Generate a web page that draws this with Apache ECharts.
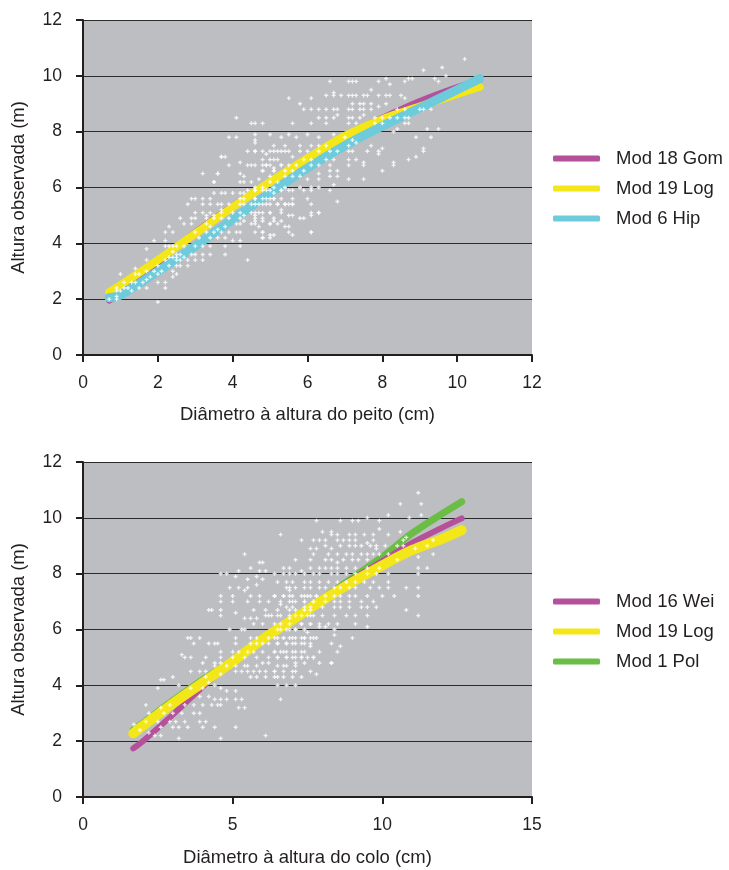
<!DOCTYPE html>
<html>
<head>
<meta charset="utf-8">
<script src="https://cdn.jsdelivr.net/npm/echarts@6/dist/echarts.min.js"></script>
<style>
html,body{margin:0;padding:0;background:#fff;}
#main{width:729px;height:870px;}
</style>
</head>
<body>
<div id="main"></div>
<script>
// upper chart: DAP (diametro a altura do peito) x altura
var dapPts = [
[3.7,7.1],[3.8,7.1],[4.4,7.3],[4.6,7.3],[4.9,7.2],[5.0,7.3],[5.2,7.3],[5.4,7.3],[5.0,7.0],[5.2,7.0],
[5.3,6.8],[5.5,6.8],[3.9,6.8],[4.2,6.9],[4.4,6.8],[4.5,6.8],[4.8,6.8],[4.9,6.8],[5.1,6.7],[3.2,6.5],
[3.6,6.5],[4.2,6.5],[4.3,6.4],[4.8,6.6],[5.1,6.6],[3.5,6.2],[4.2,6.2],[4.3,6.2],[4.5,6.2],[4.7,6.3],
[5.0,6.2],[5.2,6.2],[3.5,5.8],[3.7,5.8],[3.8,5.8],[4.0,5.8],[4.2,5.8],[4.3,5.8],[4.4,5.9],[4.6,5.9],
[4.8,5.9],[5.0,5.9],[5.1,5.8],[5.3,5.9],[5.5,5.9],[2.9,5.6],[3.0,5.6],[3.2,5.6],[3.4,5.6],[4.2,5.6],
[4.3,5.6],[4.6,5.6],[4.8,5.6],[5.0,5.6],[5.1,5.6],[5.3,5.6],[5.5,5.4],[5.6,5.4],[2.8,5.4],[3.2,5.4],
[3.4,5.4],[3.6,5.4],[3.7,5.4],[3.9,5.4],[4.2,5.4],[4.3,5.4],[4.5,5.4],[4.7,5.4],[4.8,5.4],[5.0,5.4],
[5.2,5.4],[5.4,5.4],[3.0,5.1],[3.2,5.1],[3.4,5.1],[3.7,5.1],[4.0,5.1],[4.2,5.1],[4.5,5.1],[4.7,5.1],
[5.0,5.1],[5.3,5.1],[3.3,5.0],[3.5,5.0],[3.7,5.2],[4.3,5.0],[4.6,5.0],[2.6,4.9],[2.9,4.9],[3.0,4.9],
[3.3,4.9],[3.5,4.9],[3.7,4.9],[3.9,4.9],[4.2,4.9],[4.3,4.8],[4.6,4.8],[4.8,4.8],[5.1,4.8],[5.3,4.8],
[2.7,4.7],[2.9,4.7],[3.3,4.7],[3.4,4.6],[3.6,4.5],[3.8,4.6],[4.1,4.7],[4.2,4.7],[4.5,4.7],[4.7,4.6],
[5.0,4.7],[5.2,4.7],[5.5,4.6],[2.3,4.6],[2.4,4.4],[2.2,4.4],[3.0,4.4],[3.3,4.4],[3.5,4.4],[3.7,4.4],
[3.9,4.4],[4.1,4.4],[4.2,4.4],[4.6,4.4],[4.8,4.4],[1.9,4.1],[2.2,4.1],[3.1,4.2],[3.4,4.2],[3.6,4.2],
[3.8,4.2],[4.0,4.1],[4.2,4.1],[4.8,4.2],[4.2,3.9],[3.8,3.9],[2.2,3.9],[2.3,3.9],[2.4,3.9],[2.5,3.9],
[2.7,3.9],[3.0,3.9],[3.2,3.9],[3.4,3.9],[1.7,3.8],[2.4,3.7],[2.5,3.6],[2.6,3.6],[2.9,3.6],[3.0,3.6],
[3.2,3.6],[3.4,3.6],[3.8,3.6],[2.3,3.5],[2.4,3.5],[2.5,3.5],[2.7,3.5],[2.2,3.4],[2.5,3.4],[2.6,3.4],
[2.8,3.4],[3.0,3.4],[3.2,3.4],[1.7,3.4],[2.3,3.2],[2.0,3.2],[2.5,3.2],[2.6,3.2],[2.8,3.2],[1.4,3.1],
[1.7,3.0],[1.9,3.0],[2.1,3.0],[2.4,3.0],[2.5,2.9],[1.0,2.9],[1.4,2.9],[1.5,2.9],[1.8,2.8],[2.0,2.9],
[2.4,2.8],[1.1,2.6],[1.3,2.6],[1.4,2.6],[1.6,2.6],[1.7,2.7],[2.0,2.6],[2.2,2.6],[0.9,2.4],[1.1,2.4],
[1.2,2.4],[1.5,2.4],[1.7,2.4],[2.2,2.4],[0.9,2.3],[1.0,2.3],[1.3,2.3],[0.9,2.1],[0.9,2.0],[0.7,2.0],
[2.0,1.9],[4.4,3.4],[4.1,8.5],[4.5,8.3],[3.9,7.8],[4.1,7.8],[4.6,7.7],[3.7,7.1],[3.6,6.5],[3.5,6.2],
[5.5,4.4],[6.1,4.4],[5.1,4.3],[5.0,4.3],[6.3,5.1],[6.1,5.1],[5.9,4.9],[5.6,5.0],
[10.2,10.6],[9.1,10.2],[9.6,10.3],[9.7,10.0],[8.1,9.9],[8.2,9.7],[8.7,9.9],[8.8,9.9],[9.4,9.9],[9.5,9.8],
[6.6,9.8],[7.1,9.8],[7.2,9.8],[7.3,9.8],[7.9,9.8],[8.6,9.8],[7.7,9.5],[5.5,9.2],[5.8,9.0],[6.1,9.2],
[6.5,9.3],[6.7,9.4],[6.7,9.3],[6.9,9.3],[7.1,9.3],[7.2,9.3],[7.3,9.3],[7.5,9.3],[7.6,9.3],[7.9,9.3],
[8.1,9.3],[8.2,9.3],[8.5,9.3],[8.6,9.2],[7.2,9.0],[7.4,9.0],[7.5,9.0],[7.7,9.0],[7.9,8.9],[8.1,9.0],
[5.9,8.8],[6.1,8.8],[6.3,8.8],[6.5,8.8],[6.7,8.8],[6.8,8.8],[7.1,8.8],[7.2,8.8],[7.4,8.8],[7.5,8.8],
[7.7,8.8],[8.4,8.8],[8.6,8.8],[9.0,8.8],[9.1,8.8],[9.3,8.8],[6.3,8.5],[6.5,8.5],[6.7,8.5],[6.8,8.6],
[7.1,8.5],[7.2,8.5],[7.4,8.5],[7.5,8.6],[7.8,8.5],[8.0,8.5],[8.2,8.5],[8.4,8.5],[8.6,8.5],[8.7,8.5],
[4.6,8.3],[4.8,8.3],[5.6,8.3],[6.1,8.3],[6.5,8.3],[7.1,8.3],[7.3,8.3],[7.8,8.3],[8.0,8.3],[8.6,8.3],
[8.7,8.3],[9.2,8.1],[9.5,8.1],[8.3,8.0],[8.4,8.1],[4.6,7.9],[5.0,7.9],[5.3,7.8],[5.5,7.9],[5.7,7.8],
[6.0,7.9],[6.3,7.8],[6.7,7.9],[7.0,7.8],[7.2,7.7],[8.9,7.8],[9.3,7.8],[4.6,7.6],[5.1,7.5],[5.4,7.5],
[5.8,7.5],[6.1,7.5],[6.3,7.5],[6.5,7.5],[7.1,7.5],[7.3,7.6],[7.7,7.5],[8.0,7.4],[9.1,7.4],[9.1,7.3],
[4.6,7.3],[4.8,7.3],[5.1,7.3],[5.3,7.3],[5.5,7.3],[5.8,7.3],[6.0,7.3],[6.3,7.3],[6.6,7.3],[6.8,7.3],
[7.1,7.3],[7.2,7.3],[7.6,7.3],[7.9,7.3],[4.8,7.0],[5.1,7.0],[5.6,7.1],[5.9,7.0],[6.1,7.0],[6.5,7.0],
[6.7,7.0],[7.1,7.0],[7.3,7.0],[7.5,6.9],[7.9,7.2],[8.7,7.0],[8.9,7.1],[4.6,6.8],[4.9,6.8],[5.0,6.8],
[5.3,6.8],[5.7,6.8],[6.1,6.8],[6.3,6.8],[6.6,6.8],[7.1,6.8],[7.5,6.8],[8.3,6.9],[8.3,6.8],[4.8,6.6],
[5.1,6.6],[5.4,6.6],[5.6,6.6],[5.9,6.6],[6.3,6.5],[6.6,6.6],[6.8,6.6],[5.0,6.4],[5.4,6.4],[5.6,6.4],
[5.8,6.4],[6.0,6.3],[6.3,6.3],[6.6,6.4],[6.8,6.4],[7.1,6.3],[7.5,6.3],[8.0,6.6],[4.6,6.0],[4.8,6.0],
[5.1,6.0],[5.4,6.0],[5.8,6.0],[6.1,6.0],[6.3,6.0],[6.7,6.1],[4.6,5.9],[4.9,5.9],[5.3,5.9],[5.6,5.9],
[5.9,5.9],[6.1,5.9],[6.6,5.9],[4.6,5.6],[4.9,5.6],[5.1,5.6],[5.6,5.6],[6.0,5.6],[4.6,5.4],[4.9,5.4],
[5.2,5.4],[5.4,5.4],[5.6,5.4],[6.1,5.4],[6.8,5.5],[4.6,5.1],[4.8,5.1],[5.0,5.1],[5.3,5.2],[6.3,5.1],
[4.6,4.9],[4.8,4.9],[5.1,4.9],[5.5,5.0],[5.8,4.9],[6.1,5.0],[4.6,4.7],[5.0,4.7],[5.4,4.6],[4.8,4.4],
[5.6,4.3],[6.1,4.4],[4.8,4.2],[5.0,4.2]
];
var dapX = [0.7, 1, 2, 3, 4, 5, 6, 7, 8, 9, 10, 10.6];
var gomY = [1.95, 2.2, 3.3, 4.4, 5.35, 6.2, 7.05, 7.85, 8.5, 9.1, 9.6, 9.85];
var logY = [2.25, 2.5, 3.4, 4.35, 5.3, 6.2, 7.05, 7.85, 8.45, 8.9, 9.35, 9.6];
var hipY = [2.05, 2.15, 3.0, 3.9, 4.85, 5.8, 6.7, 7.5, 8.2, 8.85, 9.5, 9.9];

// lower chart: DAC (diametro a altura do colo) x altura
var dacPts = [
[4.6,7.2],[5.0,7.2],[5.4,7.4],[5.6,7.2],[5.9,7.2],[6.4,7.2],[6.7,7.2],[6.9,7.4],[7.0,7.2],[7.4,7.2],
[7.6,7.2],[7.8,7.2],[4.6,7.0],[5.0,7.0],[5.5,7.0],[5.9,7.0],[6.2,7.0],[6.6,6.9],[6.9,7.0],[7.1,7.0],
[7.4,7.0],[7.7,7.0],[4.2,6.7],[4.3,6.7],[4.6,6.7],[5.1,6.6],[5.7,6.7],[6.1,6.7],[6.5,6.7],[6.9,6.7],
[7.1,6.7],[7.4,6.7],[7.6,6.7],[4.6,6.5],[5.4,6.4],[5.6,6.4],[5.8,6.4],[6.1,6.5],[6.3,6.5],[6.5,6.5],
[6.9,6.4],[7.1,6.5],[7.5,6.5],[7.7,6.5],[5.7,6.2],[6.0,6.2],[6.4,6.2],[7.3,6.2],[7.6,6.2],[4.9,6.0],
[5.3,6.0],[5.4,6.0],[6.6,6.0],[6.9,6.0],[7.1,6.0],[7.5,5.9],[3.5,5.7],[3.6,5.7],[3.9,5.7],[5.1,5.7],
[5.6,5.7],[5.8,5.7],[6.2,5.7],[6.5,5.7],[6.7,5.7],[6.9,5.7],[7.1,5.7],[7.4,5.7],[7.6,5.7],[7.8,5.7],
[3.7,5.5],[4.2,5.5],[4.4,5.5],[4.5,5.5],[5.1,5.5],[5.6,5.5],[5.8,5.5],[6.0,5.5],[6.2,5.5],[6.5,5.5],
[6.8,5.5],[7.0,5.5],[7.3,5.5],[7.6,5.4],[4.6,5.2],[5.0,5.2],[5.2,5.2],[5.5,5.2],[5.7,5.2],[6.0,5.2],
[6.4,5.2],[6.6,5.2],[6.8,5.2],[7.1,5.2],[7.4,5.2],[3.3,5.1],[3.4,5.0],[3.6,5.0],[4.1,5.0],[4.0,4.8],
[4.4,4.8],[4.6,5.0],[5.0,5.0],[5.4,5.0],[5.8,5.0],[6.2,5.0],[6.5,5.0],[6.8,5.0],[7.0,5.0],[7.3,5.0],
[7.5,5.0],[7.7,5.0],[3.6,4.5],[3.9,4.5],[4.1,4.5],[4.4,4.7],[4.6,4.8],[4.8,4.7],[5.1,4.7],[5.4,4.7],
[5.5,4.7],[5.8,4.7],[6.0,4.8],[6.2,4.8],[6.5,4.7],[6.8,4.7],[7.1,4.8],[7.4,4.8],[2.6,4.2],[2.7,4.2],
[3.0,4.3],[4.1,4.3],[4.6,4.4],[5.1,4.5],[5.3,4.5],[5.5,4.5],[5.7,4.5],[5.9,4.5],[6.1,4.5],[6.4,4.5],
[6.7,4.5],[7.1,4.5],[5.6,4.3],[5.8,4.3],[6.1,4.3],[6.4,4.3],[6.7,4.3],[7.0,4.3],[7.3,4.3],[2.5,3.9],
[3.2,4.0],[3.6,3.9],[4.0,3.9],[4.2,4.1],[4.4,4.0],[4.6,3.9],[4.8,3.8],[5.1,3.8],[6.5,4.0],[6.8,4.0],
[7.1,4.0],[3.9,3.6],[4.2,3.6],[4.4,3.5],[4.6,3.5],[4.8,3.5],[5.1,3.5],[5.3,3.5],[6.6,3.5],[2.1,3.3],
[2.6,3.2],[2.9,3.3],[3.4,3.3],[3.7,3.3],[4.0,3.3],[4.3,3.3],[4.5,3.3],[4.6,3.3],[5.2,3.2],[5.4,3.2],
[2.2,3.0],[2.7,3.0],[3.0,3.0],[3.3,3.0],[3.7,3.0],[3.9,3.0],[2.1,2.7],[2.5,2.7],[2.9,2.7],[3.1,2.7],
[3.4,2.7],[3.9,2.7],[4.1,2.7],[2.6,2.5],[3.0,2.5],[3.2,2.5],[3.5,2.5],[4.0,2.5],[4.4,2.5],[5.1,2.5],
[2.2,2.3],[2.4,2.2],[2.6,2.2],[3.2,2.1],[4.6,2.1],[6.1,2.2],[1.7,2.6],[1.9,2.4],
[5.4,8.7],[5.9,8.4],[6.0,8.4],[4.6,8.0],[4.8,8.0],[5.5,7.8],[5.8,7.9],[5.1,7.9],[4.9,7.5],[5.2,7.5],
[5.5,7.5],[5.8,7.6],[6.0,7.8],[5.2,8.1],[5.6,8.2],[5.9,8.1],[6.1,8.1],[8.3,4.8],
[11.2,10.9],[10.6,10.5],[11.3,10.5],[11.3,10.1],[10.2,10.1],[9.5,10.0],[7.8,9.9],[8.6,9.9],[9.0,9.9],[9.2,9.9],
[9.9,9.9],[10.9,10.0],[6.6,9.4],[7.3,9.2],[8.0,9.5],[8.3,9.5],[8.3,9.4],[8.5,9.4],[8.9,9.4],[9.1,9.4],
[9.4,9.4],[9.7,9.4],[9.9,9.6],[10.2,9.4],[10.6,9.5],[10.8,9.3],[7.7,9.2],[7.9,9.2],[8.1,9.2],[8.5,9.2],
[8.7,9.2],[8.9,9.2],[9.1,9.2],[9.5,9.1],[9.7,9.2],[9.8,9.0],[10.7,9.2],[11.7,9.2],[7.6,8.9],[7.8,8.9],
[8.1,9.0],[8.3,8.9],[8.6,9.0],[8.9,9.0],[9.1,9.0],[9.3,9.0],[9.6,9.0],[9.8,8.9],[10.1,9.0],[10.5,9.0],
[10.7,9.0],[11.1,8.9],[11.5,9.0],[7.7,8.7],[8.2,8.7],[8.5,8.7],[8.8,8.7],[9.0,8.7],[9.3,8.7],[9.5,8.7],
[9.7,8.7],[9.9,8.7],[10.2,8.7],[11.2,8.6],[11.7,8.7],[7.1,8.5],[7.6,8.5],[8.1,8.5],[8.3,8.5],[8.5,8.4],
[8.7,8.5],[9.0,8.5],[9.2,8.5],[9.5,8.5],[10.5,8.5],[6.7,8.2],[6.9,8.2],[7.3,8.1],[7.6,8.2],[7.9,8.2],
[8.1,8.2],[8.3,8.2],[8.5,8.2],[8.8,8.2],[9.1,8.2],[9.5,8.2],[9.9,8.2],[11.2,8.2],[11.5,8.2],[6.4,8.0],
[6.7,8.0],[6.9,8.0],[7.1,8.0],[7.4,8.0],[7.7,8.0],[7.9,8.0],[8.3,8.0],[8.5,8.0],[8.8,8.0],[9.1,8.0],
[9.5,8.0],[9.8,8.0],[10.2,8.0],[11.2,8.0],[6.5,7.7],[6.8,7.7],[7.0,7.7],[7.4,7.7],[7.6,7.7],[7.9,7.7],
[8.2,7.7],[8.5,7.7],[8.8,7.7],[9.1,7.7],[9.4,7.7],[9.7,7.7],[10.2,7.7],[6.8,7.5],[6.9,7.5],[7.1,7.5],
[7.4,7.5],[7.6,7.5],[7.9,7.5],[8.1,7.5],[8.4,7.5],[8.6,7.5],[8.9,7.5],[9.1,7.5],[9.6,7.5],[9.9,7.5],
[10.2,7.5],[10.8,7.5],[11.2,7.5],[6.4,7.2],[6.7,7.2],[6.9,7.2],[7.3,7.2],[7.5,7.2],[7.8,7.2],[8.1,7.2],
[8.4,7.2],[8.6,7.2],[8.9,7.2],[9.1,7.2],[9.5,7.2],[10.0,7.2],[10.4,7.2],[11.2,7.2],[6.6,7.0],[7.0,7.0],
[7.4,7.0],[7.7,7.0],[8.1,7.0],[8.4,7.0],[8.6,7.0],[8.9,7.0],[9.3,7.0],[9.7,7.0],[6.8,6.8],[7.0,6.8],
[7.4,6.8],[7.6,6.8],[8.0,6.8],[8.4,6.8],[8.6,6.8],[8.9,6.8],[9.3,6.8],[9.5,6.8],[9.8,6.8],[10.8,6.7],
[6.2,6.5],[6.6,6.5],[6.9,6.5],[7.3,6.5],[7.6,6.5],[8.0,6.5],[8.4,6.5],[8.8,6.5],[9.1,6.5],[9.5,6.5],
[11.2,6.5],[6.6,6.2],[6.9,6.2],[7.3,6.2],[7.6,6.2],[7.9,6.2],[8.2,6.2],[8.5,6.2],[9.1,6.2],[9.5,6.1],
[6.5,6.0],[6.8,6.0],[7.1,6.0],[7.4,6.0],[7.9,6.1],[8.1,6.1],[8.4,6.0],[6.4,5.7],[6.7,5.7],[7.0,5.7],
[7.3,5.7],[7.4,5.7],[7.7,5.7],[8.4,5.8],[9.0,5.7],[6.5,5.5],[6.8,5.5],[7.1,5.5],[7.4,5.5],[7.6,5.5],
[8.3,5.5],[8.6,5.4],[6.4,5.2],[6.7,5.2],[7.0,5.2],[7.3,5.2],[7.9,5.2],[8.5,5.2],[6.5,5.0],[6.8,5.0],
[7.1,5.0],[7.3,5.0],[7.7,5.0],[7.9,4.8],[8.3,4.8],[6.7,4.7],[7.1,4.7],[7.6,4.5],[7.8,4.4],[6.4,4.5],
[7.0,4.5],[6.5,4.3]
];
var dacX = [1.68, 2, 3, 4, 5, 6, 7, 8, 9, 10, 11, 12, 12.65];
var weiY = [1.74, 2.0, 2.95, 3.95, 4.9, 5.7, 6.4, 7.1, 7.8, 8.45, 9.1, 9.65, 9.98];
var logY2 = [2.28, 2.55, 3.35, 4.1, 4.85, 5.65, 6.35, 7.05, 7.7, 8.3, 8.85, 9.25, 9.56];
var polY = [2.4, 2.65, 3.45, 4.2, 4.9, 5.7, 6.4, 7.1, 7.85, 8.6, 9.45, 10.15, 10.58];

function par(xs, ys) {
    var out = [];
    for (var i = 0; i < xs.length; i++) out.push([xs[i], ys[i]]);
    return out;
}

var corTexto = '#231F20';
var fonte = '"Liberation Sans", Arial, sans-serif';
var cruz = 'path://M1,0H2V1H3V2H2V3H1V2H0V1H1Z';

function eixoX(idx, max, step, nome, gap) {
    return {
        gridIndex: idx, type: 'value', min: 0, max: max, interval: step,
        name: nome, nameLocation: 'middle', nameGap: gap,
        nameTextStyle: { fontSize: 18.5, color: corTexto, fontFamily: fonte },
        axisLine: { show: true, onZero: false, lineStyle: { color: corTexto, width: 2 } },
        axisTick: { show: true, length: 7, lineStyle: { color: corTexto, width: 2 } },
        axisLabel: { fontSize: 17.5, color: corTexto, fontFamily: fonte, margin: 19 },
        splitLine: { show: false }
    };
}
function eixoY(idx) {
    return {
        gridIndex: idx, type: 'value', min: 0, max: 12, interval: 2,
        name: 'Altura observada (m)', nameLocation: 'middle', nameGap: 55,
        nameTextStyle: { fontSize: 18.5, color: corTexto, fontFamily: fonte },
        axisLine: { show: true, onZero: false, lineStyle: { color: corTexto, width: 2 } },
        axisTick: { show: true, length: 7, lineStyle: { color: corTexto, width: 2 } },
        axisLabel: { fontSize: 17.5, color: corTexto, fontFamily: fonte, margin: 21 },
        splitLine: { show: true, lineStyle: { color: '#2b2b2b', width: 1 } }
    };
}
function curva(nome, xi, dados, cor, larg, z) {
    return {
        name: nome, type: 'line', xAxisIndex: xi, yAxisIndex: xi,
        data: dados, smooth: 0.3, symbol: 'none', z: z,
        lineStyle: { color: cor, width: larg, cap: 'round', join: 'round' },
        itemStyle: { color: cor }, emphasis: { disabled: true }
    };
}
function legenda(nomes, topo) {
    return {
        data: nomes, orient: 'vertical', left: 548, top: topo,
        icon: 'roundRect', itemWidth: 47, itemHeight: 6, itemGap: 11,
        textStyle: { fontSize: 18.5, color: corTexto, fontFamily: fonte, padding: [0, 0, 0, 11] },
        selectedMode: false
    };
}

var myChart = echarts.init(document.getElementById('main'));
myChart.setOption({
    animation: false,
    backgroundColor: '#fff',
    grid: [
        { left: 83, top: 20, width: 449, height: 335, show: true, backgroundColor: '#BDBEC2', borderWidth: 0 },
        { left: 83, top: 462, width: 449, height: 335, show: true, backgroundColor: '#BDBEC2', borderWidth: 0 }
    ],
    xAxis: [
        eixoX(0, 12, 2, 'Diâmetro à altura do peito (cm)', 50),
        eixoX(1, 15, 5, 'Diâmetro à altura do colo (cm)', 51)
    ],
    yAxis: [eixoY(0), eixoY(1)],
    legend: [
        legenda(['Mod 18 Gom', 'Mod 19 Log', 'Mod 6 Hip'], 144),
        legenda(['Mod 16 Wei', 'Mod 19 Log', 'Mod 1 Pol'], 587)
    ],
    series: [
        curva('Mod 18 Gom', 0, par(dapX, gomY), '#B5519B', 6, 2),
        curva('Mod 19 Log', 0, par(dapX, logY), '#F3E619', 8, 3),
        curva('Mod 6 Hip', 0, par(dapX, hipY), '#6DCBDB', 9, 4),
        { type: 'scatter', xAxisIndex: 0, yAxisIndex: 0, data: dapPts, symbol: cruz, symbolSize: 4,
          itemStyle: { color: '#ffffff' }, z: 5, silent: true },
        curva('Mod 1 Pol', 1, par(dacX, polY), '#6ABD45', 7, 2),
        curva('Mod 16 Wei', 1, par(dacX, weiY), '#B5519B', 6, 3),
        curva('Mod 19 Log', 1, par(dacX, logY2), '#F3E619', 10, 4),
        { type: 'scatter', xAxisIndex: 1, yAxisIndex: 1, data: dacPts, symbol: cruz, symbolSize: 4,
          itemStyle: { color: '#ffffff' }, z: 5, silent: true }
    ]
});
</script>
</body>
</html>
